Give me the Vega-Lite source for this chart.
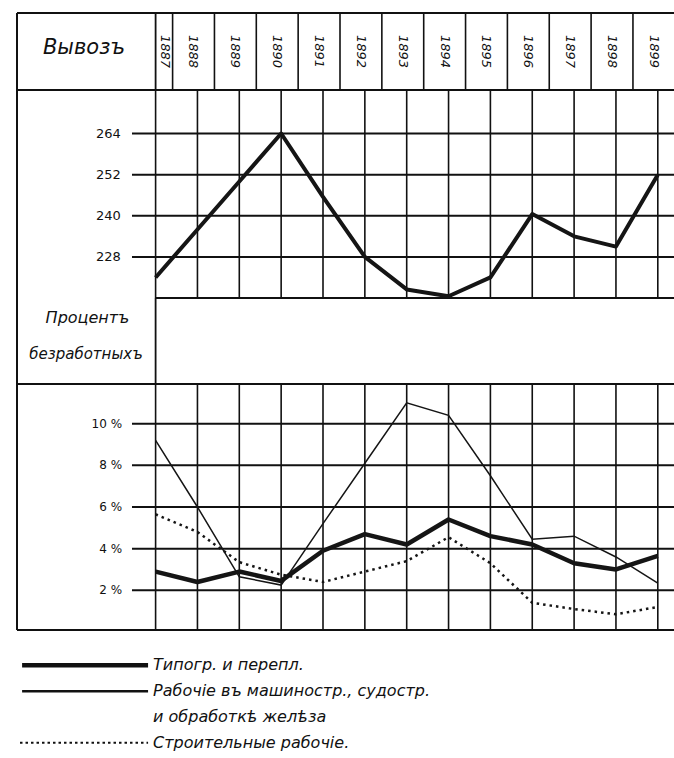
{
  "$schema": "https://vega.github.io/schema/vega-lite/v6.json",
  "background": "white",
  "padding": {"left": 0, "top": 12, "right": 0, "bottom": 0},
  "spacing": 0,
  "bounds": "flush",
  "config": {"view": {"stroke": null}, "font": "DejaVu Sans", "concat": {"spacing": 0}, "text": {"color": "#111"}},
  "datasets": {
    "export": [
      {"year": 1887, "value": 222}, {"year": 1888, "value": 236}, {"year": 1889, "value": 250},
      {"year": 1890, "value": 264}, {"year": 1891, "value": 245.5}, {"year": 1892, "value": 228},
      {"year": 1893, "value": 218.5}, {"year": 1894, "value": 216.5}, {"year": 1895, "value": 222},
      {"year": 1896, "value": 240.5}, {"year": 1897, "value": 234}, {"year": 1898, "value": 231},
      {"year": 1899, "value": 252}
    ],
    "ticks_export": [{"v": 228}, {"v": 240}, {"v": 252}, {"v": 264}],
    "ticks_pct": [{"v": 2, "label": "2 %"}, {"v": 4, "label": "4 %"}, {"v": 6, "label": "6 %"}, {"v": 8, "label": "8 %"}, {"v": 10, "label": "10 %"}],
    "unemployment": [
      {"series": "Типогр. и перепл.", "year": 1887, "value": 2.9},
      {"series": "Типогр. и перепл.", "year": 1888, "value": 2.4},
      {"series": "Типогр. и перепл.", "year": 1889, "value": 2.9},
      {"series": "Типогр. и перепл.", "year": 1890, "value": 2.45},
      {"series": "Типогр. и перепл.", "year": 1891, "value": 3.9},
      {"series": "Типогр. и перепл.", "year": 1892, "value": 4.7},
      {"series": "Типогр. и перепл.", "year": 1893, "value": 4.2},
      {"series": "Типогр. и перепл.", "year": 1894, "value": 5.4},
      {"series": "Типогр. и перепл.", "year": 1895, "value": 4.6},
      {"series": "Типогр. и перепл.", "year": 1896, "value": 4.2},
      {"series": "Типогр. и перепл.", "year": 1897, "value": 3.3},
      {"series": "Типогр. и перепл.", "year": 1898, "value": 3.0},
      {"series": "Типогр. и перепл.", "year": 1899, "value": 3.65},
      {"series": "Рабочіе въ машиностр., судостр. и обработкѣ желѣза", "year": 1887, "value": 9.2},
      {"series": "Рабочіе въ машиностр., судостр. и обработкѣ желѣза", "year": 1888, "value": 6.0},
      {"series": "Рабочіе въ машиностр., судостр. и обработкѣ желѣза", "year": 1889, "value": 2.65},
      {"series": "Рабочіе въ машиностр., судостр. и обработкѣ желѣза", "year": 1890, "value": 2.25},
      {"series": "Рабочіе въ машиностр., судостр. и обработкѣ желѣза", "year": 1891, "value": 5.2},
      {"series": "Рабочіе въ машиностр., судостр. и обработкѣ желѣза", "year": 1892, "value": 8.1},
      {"series": "Рабочіе въ машиностр., судостр. и обработкѣ желѣза", "year": 1893, "value": 11.0},
      {"series": "Рабочіе въ машиностр., судостр. и обработкѣ желѣза", "year": 1894, "value": 10.4},
      {"series": "Рабочіе въ машиностр., судостр. и обработкѣ желѣза", "year": 1895, "value": 7.5},
      {"series": "Рабочіе въ машиностр., судостр. и обработкѣ желѣза", "year": 1896, "value": 4.45},
      {"series": "Рабочіе въ машиностр., судостр. и обработкѣ желѣза", "year": 1897, "value": 4.6},
      {"series": "Рабочіе въ машиностр., судостр. и обработкѣ желѣза", "year": 1898, "value": 3.6},
      {"series": "Рабочіе въ машиностр., судостр. и обработкѣ желѣза", "year": 1899, "value": 2.35},
      {"series": "Строительные рабочіе", "year": 1887, "value": 5.65},
      {"series": "Строительные рабочіе", "year": 1888, "value": 4.8},
      {"series": "Строительные рабочіе", "year": 1889, "value": 3.35},
      {"series": "Строительные рабочіе", "year": 1890, "value": 2.75},
      {"series": "Строительные рабочіе", "year": 1891, "value": 2.4},
      {"series": "Строительные рабочіе", "year": 1892, "value": 2.9},
      {"series": "Строительные рабочіе", "year": 1893, "value": 3.4},
      {"series": "Строительные рабочіе", "year": 1894, "value": 4.55},
      {"series": "Строительные рабочіе", "year": 1895, "value": 3.3},
      {"series": "Строительные рабочіе", "year": 1896, "value": 1.4},
      {"series": "Строительные рабочіе", "year": 1897, "value": 1.1},
      {"series": "Строительные рабочіе", "year": 1898, "value": 0.85},
      {"series": "Строительные рабочіе", "year": 1899, "value": 1.2}
    ],
    "legend": [
      {"series": "Типогр. и перепл.", "text": "Типогр. и перепл."},
      {"series": "Рабочіе въ машиностр., судостр. и обработкѣ желѣза", "text": "Рабочіе въ машиностр., судостр."},
      {"series": null, "text": "и обработкѣ желѣза"},
      {"series": "Строительные рабочіе", "text": "Строительные рабочіе."}
    ]
  },
  "vconcat": [
    {
      "width": 674,
      "height": 77,
      "layer": [
        {"data": {"values": [{}]}, "mark": {"type": "rule", "color": "#111", "strokeWidth": 2},
         "encoding": {"x": {"datum": 1883.688, "type": "quantitative", "scale": {"domain": [1883.282, 1899.387], "nice": false, "zero": false}, "axis": null}, "x2": {"datum": 1899.387},
                      "y": {"datum": 1, "type": "quantitative", "scale": {"domain": [0, 1], "nice": false, "zero": false}, "axis": null}}},
        {"data": {"values": [{}]}, "mark": {"type": "rule", "color": "#111", "strokeWidth": 2},
         "encoding": {"x": {"datum": 1883.688, "type": "quantitative", "scale": {"domain": [1883.282, 1899.387], "nice": false, "zero": false}, "axis": null}, "x2": {"datum": 1899.387},
                      "y": {"datum": 0, "type": "quantitative", "scale": {"domain": [0, 1], "nice": false, "zero": false}, "axis": null}}},
        {"data": {"values": [{}]}, "mark": {"type": "rule", "color": "#111", "strokeWidth": 2},
         "encoding": {"x": {"datum": 1883.688, "type": "quantitative", "scale": {"domain": [1883.282, 1899.387], "nice": false, "zero": false}, "axis": null}}},
        {"data": {"values": [{}]}, "mark": {"type": "rule", "color": "#111", "strokeWidth": 1.8},
         "encoding": {"x": {"datum": 1887, "type": "quantitative", "scale": {"domain": [1883.282, 1899.387], "nice": false, "zero": false}, "axis": null}}},
        {"data": {"name": "export"}, "transform": [{"filter": "datum.year <= 1898"}],
         "mark": {"type": "rule", "color": "#111", "strokeWidth": 1.6, "xOffset": 17},
         "encoding": {"x": {"field": "year", "type": "quantitative", "scale": {"domain": [1883.282, 1899.387], "nice": false, "zero": false}, "axis": null}}},
        {"data": {"values": [{}]},
         "mark": {"type": "text", "fontSize": 21, "fontStyle": "italic", "align": "center", "baseline": "middle"},
         "encoding": {"x": {"datum": 1885.29, "type": "quantitative", "scale": {"domain": [1883.282, 1899.387], "nice": false, "zero": false}, "axis": null},
                      "y": {"datum": 0.545, "type": "quantitative", "scale": {"domain": [0, 1], "nice": false, "zero": false}, "axis": null},
                      "text": {"value": "Вывозъ"}}},
        {"data": {"name": "export"}, "transform": [{"filter": "datum.year > 1887"}],
         "mark": {"type": "text", "angle": 90, "fontSize": 13, "fontStyle": "italic", "align": "center", "baseline": "middle", "xOffset": -4},
         "encoding": {"x": {"field": "year", "type": "quantitative", "scale": {"domain": [1883.282, 1899.387], "nice": false, "zero": false}, "axis": null},
                      "y": {"datum": 0.5, "type": "quantitative", "scale": {"domain": [0, 1], "nice": false, "zero": false}, "axis": null},
                      "text": {"field": "year", "type": "nominal"}}},
        {"data": {"name": "export"}, "transform": [{"filter": "datum.year == 1887"}],
         "mark": {"type": "text", "angle": 90, "fontSize": 13, "fontStyle": "italic", "align": "center", "baseline": "middle", "xOffset": 9},
         "encoding": {"x": {"field": "year", "type": "quantitative", "scale": {"domain": [1883.282, 1899.387], "nice": false, "zero": false}, "axis": null},
                      "y": {"datum": 0.5, "type": "quantitative", "scale": {"domain": [0, 1], "nice": false, "zero": false}, "axis": null},
                      "text": {"field": "year", "type": "nominal"}}}
      ]
    },
    {
      "width": 674,
      "height": 208,
      "layer": [
        {"data": {"name": "export"}, "mark": {"type": "rule", "color": "#111", "strokeWidth": 1.6},
         "encoding": {"x": {"field": "year", "type": "quantitative", "scale": {"domain": [1883.282, 1899.387], "nice": false, "zero": false}, "axis": null}}},
        {"data": {"values": [{}]}, "mark": {"type": "rule", "color": "#111", "strokeWidth": 2},
         "encoding": {"x": {"datum": 1883.688, "type": "quantitative", "scale": {"domain": [1883.282, 1899.387], "nice": false, "zero": false}, "axis": null}}},
        {"data": {"name": "ticks_export"}, "mark": {"type": "rule", "color": "#111", "strokeWidth": 2},
         "encoding": {"x": {"datum": 1886.436, "type": "quantitative", "scale": {"domain": [1883.282, 1899.387], "nice": false, "zero": false}, "axis": null}, "x2": {"datum": 1899.387},
                      "y": {"field": "v", "type": "quantitative", "scale": {"domain": [216, 276.7], "nice": false, "zero": false}, "axis": null}}},
        {"data": {"values": [{}]}, "mark": {"type": "rule", "color": "#111", "strokeWidth": 2},
         "encoding": {"x": {"datum": 1887, "type": "quantitative", "scale": {"domain": [1883.282, 1899.387], "nice": false, "zero": false}, "axis": null}, "x2": {"datum": 1899.387},
                      "y": {"datum": 216, "type": "quantitative", "scale": {"domain": [216, 276.7], "nice": false, "zero": false}, "axis": null}}},
        {"data": {"name": "ticks_export"}, "mark": {"type": "text", "fontSize": 13, "align": "right", "baseline": "middle"},
         "encoding": {"x": {"datum": 1886.17, "type": "quantitative", "scale": {"domain": [1883.282, 1899.387], "nice": false, "zero": false}, "axis": null},
                      "y": {"field": "v", "type": "quantitative", "scale": {"domain": [216, 276.7], "nice": false, "zero": false}, "axis": null},
                      "text": {"field": "v", "type": "nominal"}}},
        {"data": {"name": "export"}, "mark": {"type": "line", "color": "#151515", "strokeWidth": 4, "strokeJoin": "round"},
         "encoding": {"x": {"field": "year", "type": "quantitative", "scale": {"domain": [1883.282, 1899.387], "nice": false, "zero": false}, "axis": null},
                      "y": {"field": "value", "type": "quantitative", "scale": {"domain": [216, 276.7], "nice": false, "zero": false}, "axis": null}}}
      ]
    },
    {
      "width": 674,
      "height": 86,
      "layer": [
        {"data": {"values": [{}]}, "mark": {"type": "rule", "color": "#111", "strokeWidth": 2},
         "encoding": {"x": {"datum": 1883.688, "type": "quantitative", "scale": {"domain": [1883.282, 1899.387], "nice": false, "zero": false}, "axis": null}}},
        {"data": {"values": [{}]}, "mark": {"type": "rule", "color": "#111", "strokeWidth": 1.8},
         "encoding": {"x": {"datum": 1887, "type": "quantitative", "scale": {"domain": [1883.282, 1899.387], "nice": false, "zero": false}, "axis": null}}},
        {"data": {"values": [{}]}, "mark": {"type": "text", "fontSize": 16, "fontStyle": "italic", "align": "center", "baseline": "middle"},
         "encoding": {"x": {"datum": 1885.373, "type": "quantitative", "scale": {"domain": [1883.282, 1899.387], "nice": false, "zero": false}, "axis": null},
                      "y": {"datum": 0.767, "type": "quantitative", "scale": {"domain": [0, 1], "nice": false, "zero": false}, "axis": null},
                      "text": {"value": "Процентъ"}}},
        {"data": {"values": [{}]}, "mark": {"type": "text", "fontSize": 15, "fontStyle": "italic", "align": "center", "baseline": "middle"},
         "encoding": {"x": {"datum": 1885.337, "type": "quantitative", "scale": {"domain": [1883.282, 1899.387], "nice": false, "zero": false}, "axis": null},
                      "y": {"datum": 0.349, "type": "quantitative", "scale": {"domain": [0, 1], "nice": false, "zero": false}, "axis": null},
                      "text": {"value": "безработныхъ"}}}
      ]
    },
    {
      "width": 674,
      "height": 246,
      "layer": [
        {"data": {"values": [{}]}, "mark": {"type": "rule", "color": "#111", "strokeWidth": 2},
         "encoding": {"x": {"datum": 1883.688, "type": "quantitative", "scale": {"domain": [1883.282, 1899.387], "nice": false, "zero": false}, "axis": null}, "x2": {"datum": 1899.387},
                      "y": {"datum": 11.906, "type": "quantitative", "scale": {"domain": [0.094, 11.906], "nice": false, "zero": false}, "axis": null}}},
        {"data": {"values": [{}]}, "mark": {"type": "rule", "color": "#111", "strokeWidth": 2},
         "encoding": {"x": {"datum": 1883.688, "type": "quantitative", "scale": {"domain": [1883.282, 1899.387], "nice": false, "zero": false}, "axis": null}, "x2": {"datum": 1899.387},
                      "y": {"datum": 0.094, "type": "quantitative", "scale": {"domain": [0.094, 11.906], "nice": false, "zero": false}, "axis": null}}},
        {"data": {"values": [{}]}, "mark": {"type": "rule", "color": "#111", "strokeWidth": 2},
         "encoding": {"x": {"datum": 1883.688, "type": "quantitative", "scale": {"domain": [1883.282, 1899.387], "nice": false, "zero": false}, "axis": null}}},
        {"data": {"name": "export"}, "mark": {"type": "rule", "color": "#111", "strokeWidth": 1.6},
         "encoding": {"x": {"field": "year", "type": "quantitative", "scale": {"domain": [1883.282, 1899.387], "nice": false, "zero": false}, "axis": null}}},
        {"data": {"name": "ticks_pct"}, "mark": {"type": "rule", "color": "#111", "strokeWidth": 2},
         "encoding": {"x": {"datum": 1886.436, "type": "quantitative", "scale": {"domain": [1883.282, 1899.387], "nice": false, "zero": false}, "axis": null}, "x2": {"datum": 1899.387},
                      "y": {"field": "v", "type": "quantitative", "scale": {"domain": [0.094, 11.906], "nice": false, "zero": false}, "axis": null}}},
        {"data": {"name": "ticks_pct"}, "mark": {"type": "text", "fontSize": 12, "align": "right", "baseline": "middle"},
         "encoding": {"x": {"datum": 1886.2, "type": "quantitative", "scale": {"domain": [1883.282, 1899.387], "nice": false, "zero": false}, "axis": null},
                      "y": {"field": "v", "type": "quantitative", "scale": {"domain": [0.094, 11.906], "nice": false, "zero": false}, "axis": null},
                      "text": {"field": "label", "type": "nominal"}}},
        {"data": {"name": "unemployment"}, "transform": [{"filter": "datum.series == 'Строительные рабочіе'"}],
         "mark": {"type": "line", "color": "#151515", "strokeWidth": 2.5, "strokeDash": [2.5, 4]},
         "encoding": {"x": {"field": "year", "type": "quantitative", "scale": {"domain": [1883.282, 1899.387], "nice": false, "zero": false}, "axis": null},
                      "y": {"field": "value", "type": "quantitative", "scale": {"domain": [0.094, 11.906], "nice": false, "zero": false}, "axis": null}}},
        {"data": {"name": "unemployment"}, "transform": [{"filter": "datum.series == 'Рабочіе въ машиностр., судостр. и обработкѣ желѣза'"}],
         "mark": {"type": "line", "color": "#151515", "strokeWidth": 1.5},
         "encoding": {"x": {"field": "year", "type": "quantitative", "scale": {"domain": [1883.282, 1899.387], "nice": false, "zero": false}, "axis": null},
                      "y": {"field": "value", "type": "quantitative", "scale": {"domain": [0.094, 11.906], "nice": false, "zero": false}, "axis": null}}},
        {"data": {"name": "unemployment"}, "transform": [{"filter": "datum.series == 'Типогр. и перепл.'"}],
         "mark": {"type": "line", "color": "#151515", "strokeWidth": 4.5, "strokeJoin": "round"},
         "encoding": {"x": {"field": "year", "type": "quantitative", "scale": {"domain": [1883.282, 1899.387], "nice": false, "zero": false}, "axis": null},
                      "y": {"field": "value", "type": "quantitative", "scale": {"domain": [0.094, 11.906], "nice": false, "zero": false}, "axis": null}}}
      ]
    },
    {
      "width": 674,
      "height": 129,
      "data": {"name": "legend"},
      "layer": [
        {"transform": [{"filter": "datum.series == 'Типогр. и перепл.'"}],
         "mark": {"type": "rule", "color": "#111", "strokeWidth": 4.5},
         "encoding": {"x": {"datum": 1883.81, "type": "quantitative", "scale": {"domain": [1883.282, 1899.387], "nice": false, "zero": false}, "axis": null}, "x2": {"datum": 1886.82},
                      "y": {"field": "text", "type": "ordinal", "scale": {"type": "point", "domain": ["Типогр. и перепл.", "Рабочіе въ машиностр., судостр.", "и обработкѣ желѣза", "Строительные рабочіе."], "padding": 1.08, "align": 0.685}, "axis": null}}},
        {"transform": [{"filter": "datum.series == 'Рабочіе въ машиностр., судостр. и обработкѣ желѣза'"}],
         "mark": {"type": "rule", "color": "#111", "strokeWidth": 2.5},
         "encoding": {"x": {"datum": 1883.81, "type": "quantitative", "scale": {"domain": [1883.282, 1899.387], "nice": false, "zero": false}, "axis": null}, "x2": {"datum": 1886.82},
                      "y": {"field": "text", "type": "ordinal", "scale": {"type": "point", "domain": ["Типогр. и перепл.", "Рабочіе въ машиностр., судостр.", "и обработкѣ желѣза", "Строительные рабочіе."], "padding": 1.08, "align": 0.685}, "axis": null}}},
        {"transform": [{"filter": "datum.series == 'Строительные рабочіе'"}],
         "mark": {"type": "rule", "color": "#111", "strokeWidth": 2, "strokeDash": [2.5, 3]},
         "encoding": {"x": {"datum": 1883.76, "type": "quantitative", "scale": {"domain": [1883.282, 1899.387], "nice": false, "zero": false}, "axis": null}, "x2": {"datum": 1886.82},
                      "y": {"field": "text", "type": "ordinal", "scale": {"type": "point", "domain": ["Типогр. и перепл.", "Рабочіе въ машиностр., судостр.", "и обработкѣ желѣза", "Строительные рабочіе."], "padding": 1.08, "align": 0.685}, "axis": null}}},
        {"mark": {"type": "text", "fontSize": 16, "fontStyle": "italic", "align": "left", "baseline": "middle"},
         "encoding": {"x": {"datum": 1886.94, "type": "quantitative", "scale": {"domain": [1883.282, 1899.387], "nice": false, "zero": false}, "axis": null},
                      "y": {"field": "text", "type": "ordinal", "scale": {"type": "point", "domain": ["Типогр. и перепл.", "Рабочіе въ машиностр., судостр.", "и обработкѣ желѣза", "Строительные рабочіе."], "padding": 1.08, "align": 0.685}, "axis": null},
                      "text": {"field": "text", "type": "nominal"}}}
      ]
    }
  ]
}
